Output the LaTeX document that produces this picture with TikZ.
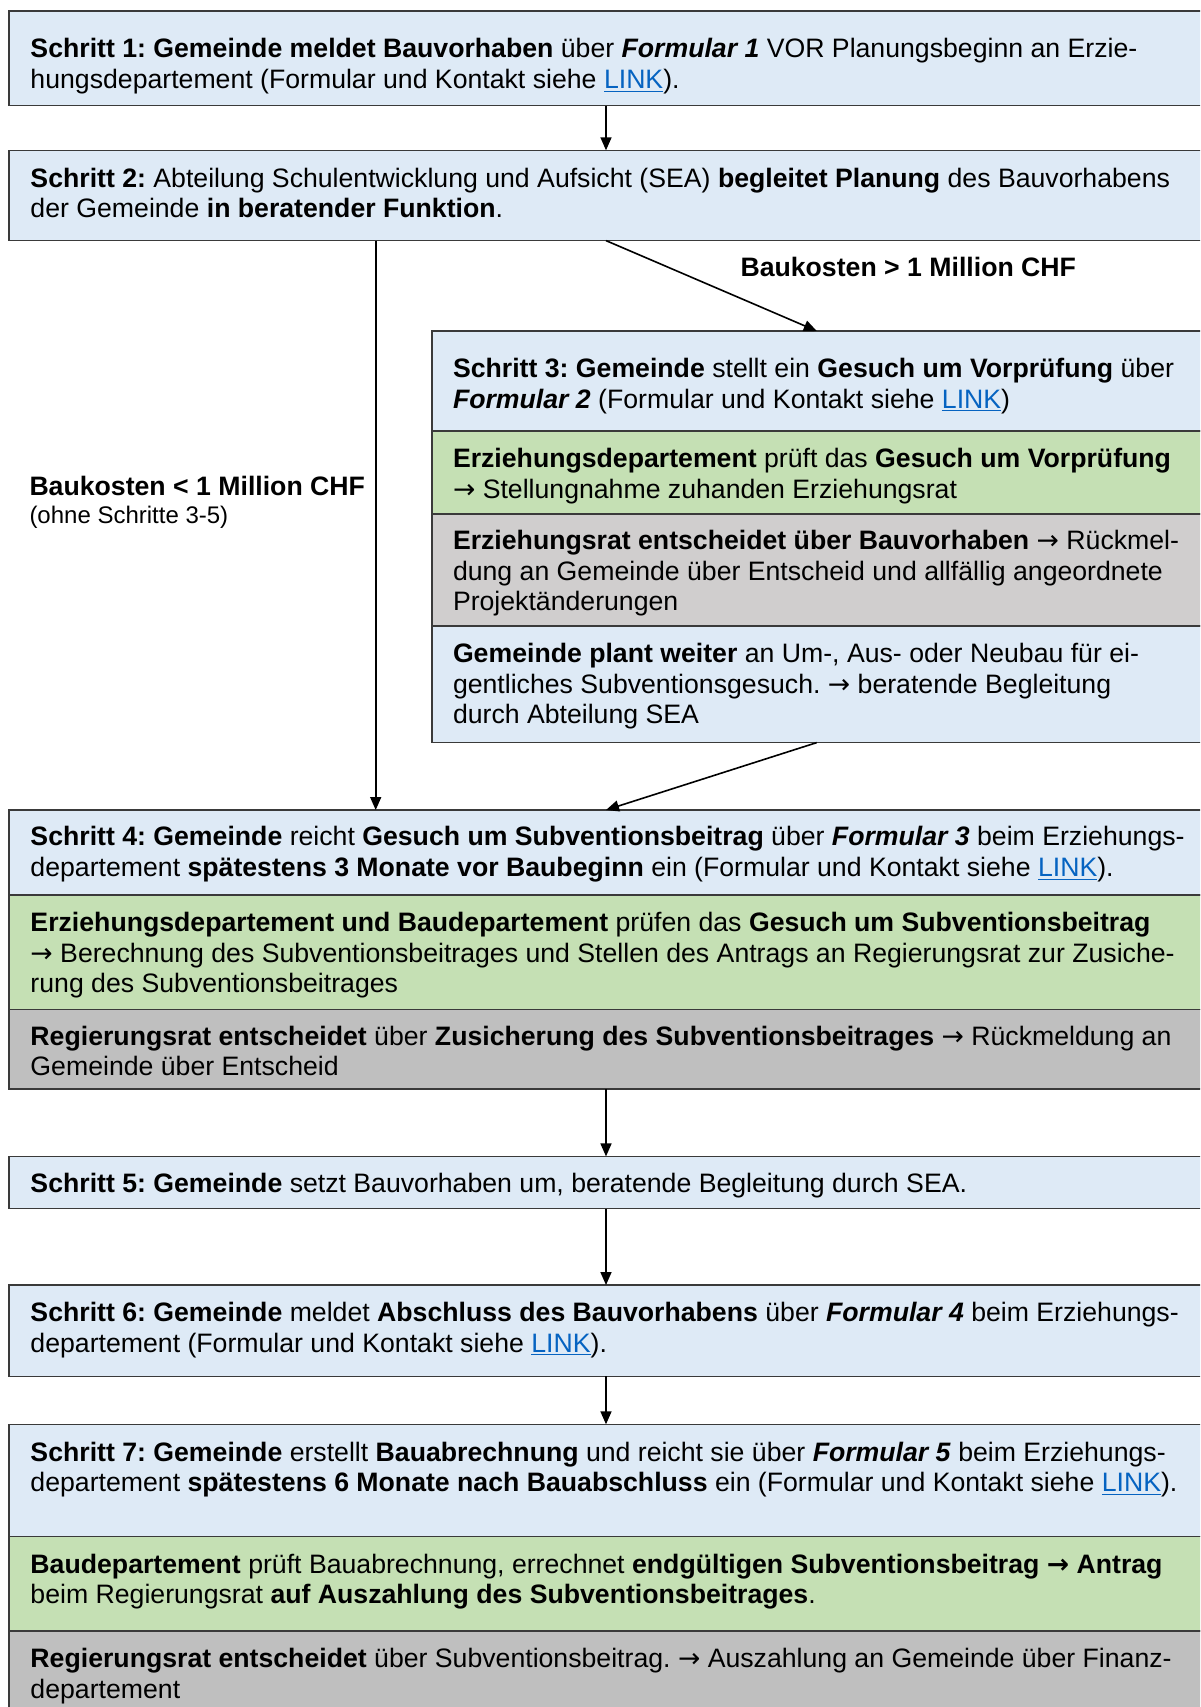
\documentclass[tikz,border=0pt]{standalone}
\usepackage{fontspec}
\setmainfont{Liberation Sans}
\newfontfamily\arrowfont{DejaVu Sans}
\usetikzlibrary{arrows.meta}
\definecolor{bluefill}{HTML}{DEEAF6}
\definecolor{greenfill}{HTML}{C5E0B4}
\definecolor{grayA}{HTML}{D0CECE}
\definecolor{grayB}{HTML}{BFBFBF}
\definecolor{bordercol}{HTML}{3A3A3A}
\definecolor{linkcol}{HTML}{0563C1}
\frenchspacing
\newcommand\lnk[1]{\textcolor{linkcol}{\underline{#1}}}
\newcommand\bi[1]{\textbf{\textit{#1}}}
\newcommand\ar{{\arrowfont →}}
\newcommand\mainsize{\fontsize{13.33pt}{15.25pt}\selectfont}
\newcommand\smallsize{\fontsize{12pt}{14pt}\selectfont}
\tikzset{
  box/.style={draw=bordercol, line width=0.75pt, anchor=north west, inner sep=0pt, outer sep=0pt},
  txt/.style={anchor=north west, inner sep=0pt, outer sep=0pt, align=left, font=\mainsize},
  arr/.style={line width=0.8pt, draw=black, -{Triangle[length=6.5pt,width=5.5pt]}},
}
% name, fill, x1, y1, x2, y2 (pixel units)
\newcommand\mybox[6]{\node[box, fill=#2, minimum width={(#5-#3)*0.5pt}, minimum height={(#6-#4)*0.5pt}] (#1) at (#3,#4) {};}
% name, x, baseline y, text
\newcommand\mytext[4]{\node[txt] (#1) at (#2,#3-19.5) {\rule{0pt}{11pt}#4};}
\begin{document}
\begin{tikzpicture}[x=0.5pt,y=-0.5pt]
\useasboundingbox (0,0) rectangle (1200,1707);
\fill[white] (0,0) rectangle (1200,1707);
\begin{scope}
\clip (0,0) rectangle (1200,1707);
% boxes
\mybox{b1}{bluefill}{9}{10.9}{1203}{105.6}
\mybox{b2}{bluefill}{9}{150.3}{1203}{240.6}
\mybox{b3a}{bluefill}{432}{331}{1201.5}{431.2}
\mybox{b3b}{greenfill}{432}{431.2}{1201.5}{514}
\mybox{b3c}{grayA}{432}{514}{1201.5}{626}
\mybox{b3d}{bluefill}{432}{626}{1201.5}{742.6}
\mybox{b4a}{bluefill}{9}{810}{1203}{895}
\mybox{b4b}{greenfill}{9}{895}{1203}{1009.4}
\mybox{b4c}{grayB}{9}{1009.4}{1203}{1089}
\mybox{b5}{bluefill}{9}{1156.4}{1203}{1208.7}
\mybox{b6}{bluefill}{9}{1285}{1203}{1376.4}
\mybox{b7a}{bluefill}{9}{1424.3}{1203}{1536.4}
\mybox{b7b}{greenfill}{9}{1536.4}{1203}{1631}
\mybox{b7c}{grayB}{9}{1631}{1203}{1725}
% texts
\mytext{t1}{30.5}{55.5}{\textbf{Schritt 1: Gemeinde meldet Bauvorhaben} über \bi{Formular 1} VOR Planungsbeginn an Erzie-\\hungsdepartement (Formular und Kontakt siehe \lnk{LINK}).}
\mytext{t2}{30.5}{184.5}{\textbf{Schritt 2:} Abteilung Schulentwicklung und Aufsicht (SEA) \textbf{begleitet Planung} des Bauvorhabens\\der Gemeinde \textbf{in beratender Funktion}.}
\mytext{lgt}{740.5}{274}{\textbf{Baukosten > 1 Million CHF}}
\mytext{t3a}{453}{375}{\textbf{Schritt 3: Gemeinde} stellt ein \textbf{Gesuch um Vorprüfung} über\\\bi{Formular 2} (Formular und Kontakt siehe \lnk{LINK})}
\mytext{t3b}{453}{465.4}{\textbf{Erziehungsdepartement} prüft das \textbf{Gesuch um Vorprüfung}\\\ar{} Stellungnahme zuhanden Erziehungsrat}
\mytext{t3c}{453}{547}{\textbf{Erziehungsrat entscheidet über Bauvorhaben} \ar{} Rückmel-\\dung an Gemeinde über Entscheid und allfällig angeordnete\\Projektänderungen}
\mytext{t3d}{453}{660}{\textbf{Gemeinde plant weiter} an Um-, Aus- oder Neubau für ei-\\gentliches Subventionsgesuch. \ar{} beratende Begleitung\\durch Abteilung SEA}
\mytext{llt}{29.5}{492.6}{\textbf{Baukosten < 1 Million CHF}}
\node[txt, font=\smallsize] (llt2) at (29.5,521-18) {\rule{0pt}{10pt}(ohne Schritte 3-5)};
\mytext{t4a}{30.5}{843.3}{\textbf{Schritt 4: Gemeinde} reicht \textbf{Gesuch um Subventionsbeitrag} über \bi{Formular 3} beim Erziehungs-\\departement \textbf{spätestens 3 Monate vor Baubeginn} ein (Formular und Kontakt siehe \lnk{LINK}).}
\mytext{t4b}{30.5}{929.3}{\textbf{Erziehungsdepartement und Baudepartement} prüfen das \textbf{Gesuch um Subventionsbeitrag}\\\ar{} Berechnung des Subventionsbeitrages und Stellen des Antrags an Regierungsrat zur Zusiche-\\rung des Subventionsbeitrages}
\mytext{t4c}{30.5}{1042.5}{\textbf{Regierungsrat entscheidet} über \textbf{Zusicherung des Subventionsbeitrages} \ar{} Rückmeldung an\\Gemeinde über Entscheid}
\mytext{t5}{30.5}{1189.5}{\textbf{Schritt 5: Gemeinde} setzt Bauvorhaben um, beratende Begleitung durch SEA.}
\mytext{t6}{30.5}{1319}{\textbf{Schritt 6: Gemeinde} meldet \textbf{Abschluss des Bauvorhabens} über \bi{Formular 4} beim Erziehungs-\\departement (Formular und Kontakt siehe \lnk{LINK}).}
\mytext{t7a}{30.5}{1458.5}{\textbf{Schritt 7: Gemeinde} erstellt \textbf{Bauabrechnung} und reicht sie über \bi{Formular 5} beim Erziehungs-\\departement \textbf{spätestens 6 Monate nach Bauabschluss} ein (Formular und Kontakt siehe \lnk{LINK}).}
\mytext{t7b}{30.5}{1570.7}{\textbf{Baudepartement} prüft Bauabrechnung, errechnet \textbf{endgültigen Subventionsbeitrag \ar{} Antrag}\\beim Regierungsrat \textbf{auf Auszahlung des Subventionsbeitrages}.}
\mytext{t7c}{30.5}{1665.4}{\textbf{Regierungsrat entscheidet} über Subventionsbeitrag. \ar{} Auszahlung an Gemeinde über Finanz-\\departement}
% connectors
\coordinate (cl) at (375.7,0);
\draw[arr] (b1.south) -- (b2.north);
\draw[arr] (b2.south -| cl) -- (b4a.north -| cl);
\draw[arr] (b2.south) -- (b3a.north);
\draw[arr] (b3d.south) -- (b4a.north);
\draw[arr] (b4c.south) -- (b5.north);
\draw[arr] (b5.south) -- (b6.north);
\draw[arr] (b6.south) -- (b7a.north);
\end{scope}
\end{tikzpicture}
\end{document}
